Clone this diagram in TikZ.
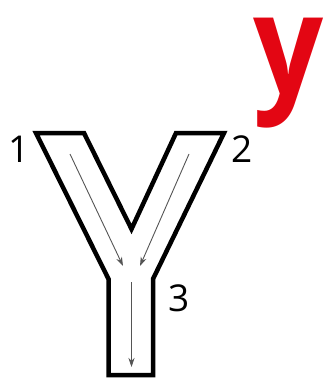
\documentclass[tikz,border=0pt]{standalone}
\usepackage{fontspec}
\setsansfont{Open Sans}
\usepackage{xcolor}
\usetikzlibrary{arrows.meta}
\definecolor{ypipered}{HTML}{E30613}
\definecolor{ypipegray}{HTML}{555555}

\begin{document}
\begin{tikzpicture}[x=1pt,y=-1pt,font=\sffamily,
  pipe/.style={draw=black,line width=4.5pt,line join=miter,fill=white},
  flow/.style={-{Stealth[length=9pt,width=6pt]},draw=ypipegray,line width=0.9pt},
  num/.style={font=\fontsize{37}{40}\sffamily,inner sep=0pt}]
  \useasboundingbox (0,0) rectangle (329,385);

  % Y-shaped pipe
  \draw[pipe] (36,133) -- (84,133) -- (131.5,229) -- (176,133) -- (224,133)
    -- (153,279) -- (153,375) -- (108.5,375) -- (108.5,279) -- cycle;

  \node[num] (n1) at (19,149) {1};
  \node[num] (n2) at (242,149) {2};
  \node[num] (n3) at (179,298) {3};

  \node[font=\fontsize{140}{140}\sffamily\bfseries,text=ypipered,inner sep=0pt,
    text height=80pt,text depth=30pt,anchor=base,xscale=0.88] (ylet)
    at (289,95) {y};

  \coordinate (in1) at (70,154);
  \coordinate (in2) at (189,154);
  \coordinate (j1) at (123,266);
  \coordinate (j2) at (140,266);
  \coordinate (s0) at (131.5,282);
  \coordinate (out) at (131.5,367);
  \draw[flow] (in1) -- (j1);
  \draw[flow] (in2) -- (j2);
  \draw[flow] (s0) -- (out);
\end{tikzpicture}
\end{document}
